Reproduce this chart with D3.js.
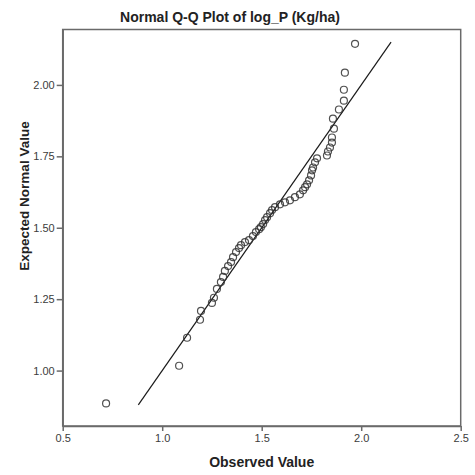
<!DOCTYPE html>
<html>
<head>
<meta charset="utf-8">
<script src="https://cdn.jsdelivr.net/npm/d3@7"></script>
<style>
  html, body { margin: 0; padding: 0; background: #fff; }
  svg { display: block; font-family: "Liberation Sans", Arial, sans-serif; }
</style>
</head>
<body>
<svg id="chart" width="475" height="475"></svg>
<script>
// Observed values of log_P and their expected normal scores
const observed = [
  0.718, 1.085, 1.125, 1.190, 1.195, 1.250, 1.260, 1.275, 1.295, 1.306,
  1.315, 1.331, 1.346, 1.356, 1.371, 1.386, 1.396, 1.416, 1.436, 1.456,
  1.471, 1.487, 1.496, 1.507, 1.517, 1.527, 1.542, 1.552, 1.567, 1.592,
  1.617, 1.642, 1.667, 1.692, 1.708, 1.718, 1.728, 1.738, 1.748, 1.753,
  1.758, 1.768, 1.778, 1.828, 1.833, 1.843, 1.853, 1.853, 1.863, 1.858,
  1.888, 1.913, 1.913, 1.918, 1.969
];
const expected = [
  0.885, 1.017, 1.115, 1.178, 1.209, 1.237, 1.255, 1.286, 1.310, 1.328,
  1.349, 1.366, 1.380, 1.397, 1.415, 1.429, 1.439, 1.450, 1.457, 1.471,
  1.485, 1.495, 1.502, 1.513, 1.527, 1.537, 1.551, 1.562, 1.572, 1.582,
  1.589, 1.596, 1.607, 1.617, 1.631, 1.642, 1.652, 1.666, 1.683, 1.701,
  1.711, 1.729, 1.743, 1.753, 1.767, 1.781, 1.798, 1.816, 1.847, 1.882,
  1.914, 1.945, 1.983, 2.043, 2.144
];
// Reference line y = x
const refLine = [0.88, 2.15];
const xTicks = [0.5, 1.0, 1.5, 2.0, 2.5];
const yTicks = [1.00, 1.25, 1.50, 1.75, 2.00];

const svg = d3.select("#chart");
const plotL = 62.7, plotR = 460.7, plotT = 29.5, plotB = 426;

const x = d3.scaleLinear().domain([0.5, 2.5]).range([plotL, plotR]);
const y = d3.scaleLinear().domain([0.806, 2.194]).range([plotB, plotT]);

// Plot frame
svg.append("rect")
  .attr("x", plotL).attr("y", plotT)
  .attr("width", plotR - plotL).attr("height", plotB - plotT)
  .attr("fill", "none").attr("stroke", "#6a6a6a").attr("stroke-width", 1.5);

// Axes
const xAxis = d3.axisBottom(x).tickValues(xTicks).tickFormat(d3.format(".1f"))
  .tickSizeInner(5).tickSizeOuter(0).tickPadding(3);
const yAxis = d3.axisLeft(y).tickValues(yTicks).tickFormat(d3.format(".2f"))
  .tickSizeInner(6).tickSizeOuter(0).tickPadding(2);

const gx = svg.append("g").attr("transform", `translate(0,${plotB})`).call(xAxis);
const gy = svg.append("g").attr("transform", `translate(${plotL},0)`).call(yAxis);
[gx, gy].forEach(g => {
  g.select(".domain").attr("stroke", "#6a6a6a").attr("stroke-width", 1.5);
  g.selectAll(".tick line").attr("stroke", "#6a6a6a").attr("stroke-width", 1.5);
  g.selectAll(".tick text").attr("fill", "#3c3c3c")
    .style("font-family", "'Liberation Sans', Arial, sans-serif").style("font-size", "11px");
});

// Reference line
svg.append("line")
  .attr("x1", x(refLine[0])).attr("y1", y(refLine[0]))
  .attr("x2", x(refLine[1])).attr("y2", y(refLine[1]))
  .attr("stroke", "#1a1a1a").attr("stroke-width", 1.2);

// Points
svg.append("g").selectAll("circle")
  .data(observed.map((v, i) => [v, expected[i]]))
  .join("circle")
  .attr("cx", d => x(d[0])).attr("cy", d => y(d[1]))
  .attr("r", 3.5)
  .attr("fill", "none")
  .attr("stroke", "#333")
  .attr("stroke-opacity", 0.85)
  .attr("stroke-width", 1.2);

// Titles
svg.append("text")
  .attr("x", 230).attr("y", 22)
  .attr("text-anchor", "middle")
  .style("font-weight", "bold").style("font-size", "14px").attr("fill", "#222")
  .text("Normal Q-Q Plot of log_P (Kg/ha)");

svg.append("text")
  .attr("x", (plotL + plotR) / 2).attr("y", 467)
  .attr("text-anchor", "middle")
  .style("font-weight", "bold").style("font-size", "14px").attr("fill", "#222")
  .text("Observed Value");

svg.append("text")
  .attr("transform", "translate(29,196) rotate(-90)")
  .attr("text-anchor", "middle")
  .style("font-weight", "bold").style("font-size", "13.5px").attr("fill", "#222")
  .text("Expected Normal Value");
</script>
</body>
</html>
